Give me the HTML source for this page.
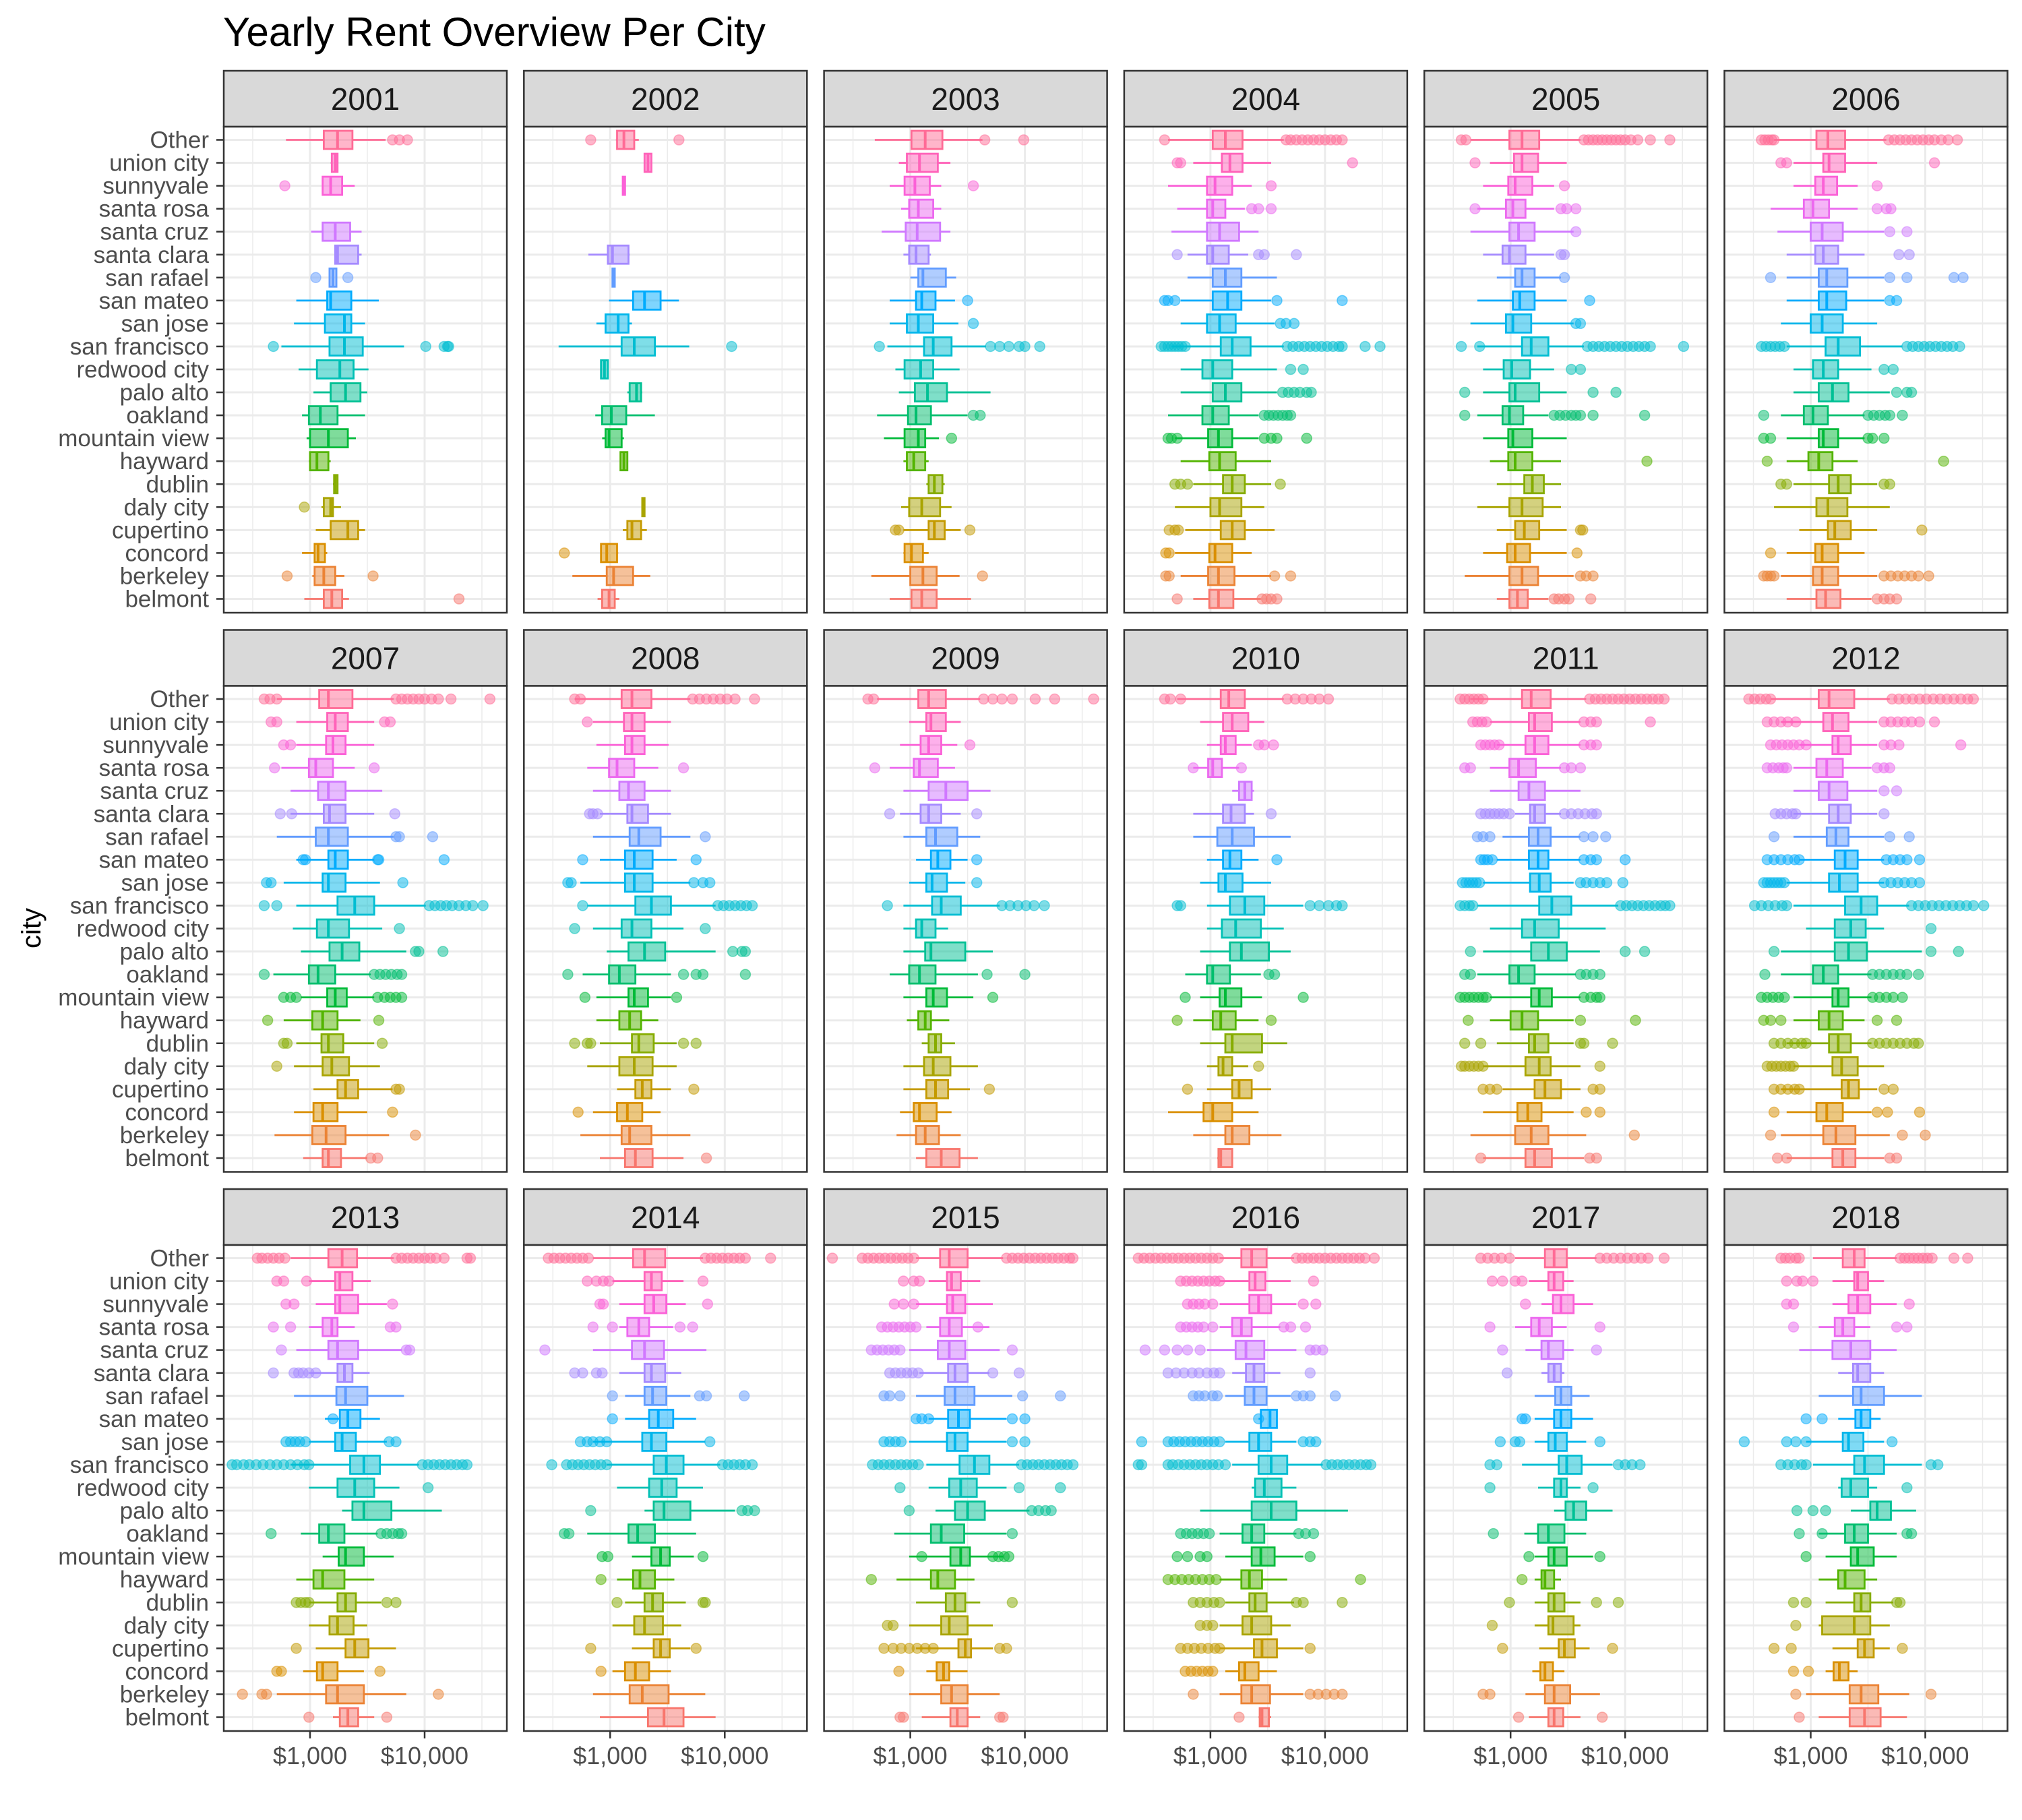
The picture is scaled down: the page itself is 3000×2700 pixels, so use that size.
<!DOCTYPE html>
<html><head><meta charset="utf-8"><style>
html,body{margin:0;padding:0;background:#fff;}
svg{display:block;font-family:"Liberation Sans",Arial,sans-serif;}
</style></head><body>
<svg id="chart" width="3000" height="2700" viewBox="0 0 3000 2700" xmlns="http://www.w3.org/2000/svg">
<rect x="0" y="0" width="3000" height="2700" fill="#fff"/>
<text x="331" y="68" font-size="60" fill="#000">Yearly Rent Overview Per City</text>
<text transform="translate(60,1377) rotate(-90)" text-anchor="middle" font-size="40" fill="#000">city</text>
<g id="plots"></g>
</svg>
<script>
const cities = ["belmont","berkeley","concord","cupertino","daly city","dublin","hayward","mountain view","oakland","palo alto","redwood city","san francisco","san jose","san mateo","san rafael","santa clara","santa cruz","santa rosa","sunnyvale","union city","Other"];
const years = ["2001","2002","2003","2004","2005","2006","2007","2008","2009","2010","2011","2012","2013","2014","2015","2016","2017","2018"];
const tickValues = [1000, 10000];
const tickLabels = ["$1,000", "$10,000"];
// each entry: [lowWhisker, q1, median, q3, highWhisker, outliers] in log10(rent $)
const logRent2001 = [[2.95,3.12,3.19,3.28,3.34,[4.3]],[3.02,3.04,3.12,3.22,3.3,[2.8,3.55]],[2.93,3.04,3.07,3.13,3.15,[]],[3.05,3.18,3.33,3.42,3.48,[]],[3.1,3.12,3.18,3.2,3.27,[2.95]],[3.2,3.21,3.22,3.24,3.24,[]],[2.99,3.0,3.06,3.16,3.18,[]],[2.97,3.0,3.16,3.33,3.4,[]],[2.93,2.99,3.09,3.24,3.48,[]],[3.03,3.18,3.31,3.44,3.5,[]],[2.9,3.06,3.26,3.38,3.51,[]],[2.75,3.17,3.3,3.46,3.82,[2.68,4.01,4.17,4.2,4.21]],[2.86,3.13,3.3,3.36,3.48,[]],[2.88,3.15,3.18,3.36,3.6,[]],[3.17,3.17,3.2,3.23,3.23,[3.05,3.33]],[3.22,3.22,3.24,3.42,3.45,[]],[3.01,3.11,3.22,3.35,3.45,[]],null,[3.11,3.11,3.18,3.28,3.39,[2.78]],[3.18,3.19,3.22,3.24,3.24,[]],[2.79,3.12,3.24,3.37,3.66,[3.72,3.78,3.85]]];
const logRent2002 = [[2.89,2.93,2.99,3.04,3.08,[]],[2.67,2.97,3.03,3.2,3.35,[]],[2.92,2.92,2.97,3.06,3.07,[2.6]],[3.11,3.15,3.19,3.27,3.32,[]],[3.28,3.28,3.29,3.3,3.3,[]],null,[3.09,3.09,3.12,3.15,3.15,[]],[2.93,2.96,2.99,3.1,3.12,[]],[2.87,2.93,3.01,3.14,3.39,[]],[3.15,3.17,3.23,3.27,3.28,[]],[2.92,2.92,2.95,2.98,2.98,[]],[2.55,3.1,3.21,3.39,3.69,[4.06]],[2.88,2.96,3.07,3.16,3.19,[]],[2.99,3.2,3.3,3.44,3.6,[]],[3.02,3.02,3.03,3.04,3.04,[]],[2.81,2.98,3.02,3.16,3.17,[]],null,null,[3.11,3.11,3.12,3.13,3.13,[]],[3.3,3.3,3.33,3.36,3.36,[]],[3.05,3.06,3.12,3.21,3.25,[2.83,3.6]]];
const logRent2003 = [[2.82,3.01,3.1,3.23,3.53,[]],[2.66,3.0,3.11,3.23,3.43,[3.63]],[2.94,2.95,3.01,3.11,3.16,[]],[2.94,3.16,3.21,3.3,3.44,[2.87,2.9,3.52]],[2.92,2.99,3.1,3.26,3.36,[]],[3.14,3.16,3.21,3.28,3.3,[]],[2.94,2.97,3.03,3.13,3.16,[]],[2.77,2.95,3.07,3.13,3.25,[3.36]],[2.71,2.98,3.05,3.18,3.5,[3.55,3.61]],[2.9,3.04,3.15,3.32,3.7,[]],[2.87,2.95,3.09,3.2,3.43,[]],[2.8,3.12,3.2,3.36,3.66,[2.73,3.7,3.78,3.86,3.95,4.0,4.13]],[2.82,2.97,3.07,3.2,3.42,[3.55]],[2.82,3.05,3.1,3.22,3.39,[3.5]],[3.0,3.07,3.11,3.31,3.4,[]],[2.94,2.99,3.05,3.16,3.18,[]],[2.75,2.96,3.06,3.26,3.35,[]],[2.92,2.99,3.07,3.2,3.27,[]],[2.82,2.95,3.04,3.17,3.27,[3.55]],[2.9,2.97,3.08,3.24,3.35,[]],[2.69,3.01,3.13,3.28,3.63,[3.65,3.99]]];
const logRent2004 = [[2.85,2.99,3.07,3.2,3.44,[2.71,3.45,3.49,3.53,3.58]],[2.74,2.98,3.07,3.21,3.53,[2.61,2.64,3.56,3.7]],[2.69,2.99,3.04,3.19,3.36,[2.61,2.64]],[2.78,3.09,3.19,3.3,3.56,[2.64,2.69,2.72]],[2.69,3.0,3.08,3.27,3.47,[]],[2.85,3.11,3.19,3.3,3.53,[2.69,2.74,2.8,3.61]],[2.74,2.99,3.08,3.22,3.53,[]],[2.69,2.98,3.07,3.19,3.42,[2.63,2.66,2.71,3.47,3.53,3.58,3.84]],[2.63,2.93,3.02,3.16,3.42,[3.47,3.51,3.55,3.59,3.63,3.67,3.7]],[2.74,3.02,3.13,3.27,3.58,[3.63,3.68,3.73,3.78,3.84,3.88]],[2.74,2.93,3.02,3.19,3.58,[3.7,3.81]],[2.66,3.09,3.19,3.35,3.64,[2.57,2.6,2.63,2.66,2.69,2.72,2.75,2.78,3.67,3.72,3.77,3.82,3.87,3.92,3.97,4.02,4.07,4.12,4.15,4.35,4.48]],[2.74,2.97,3.08,3.22,3.56,[3.61,3.66,3.73]],[2.74,3.02,3.15,3.27,3.53,[2.6,2.63,2.69,3.58,4.15]],[2.8,3.02,3.13,3.27,3.58,[]],[2.8,2.97,3.02,3.16,3.33,[2.71,3.42,3.47,3.75]],[2.66,2.97,3.08,3.25,3.42,[]],[2.71,2.97,3.02,3.13,3.3,[3.36,3.42,3.53]],[2.63,2.97,3.04,3.19,3.36,[3.53]],[2.85,3.1,3.17,3.28,3.53,[2.71,2.74,4.24]],[2.63,3.02,3.13,3.28,3.64,[2.6,3.66,3.7,3.75,3.8,3.85,3.9,3.95,4.0,4.05,4.1,4.15]]];
const logRent2005 = [[2.88,2.99,3.06,3.15,3.33,[3.38,3.42,3.47,3.51,3.7]],[2.6,2.99,3.1,3.24,3.55,[3.61,3.66,3.72]],[2.76,2.97,3.04,3.17,3.49,[3.58]],[2.88,3.04,3.12,3.25,3.49,[3.61,3.63]],[2.71,2.99,3.1,3.28,3.44,[]],[2.88,3.12,3.19,3.29,3.44,[]],[2.82,2.98,3.04,3.19,3.44,[4.19]],[2.76,2.98,3.02,3.19,3.49,[]],[2.71,2.93,2.99,3.11,3.33,[2.6,3.38,3.43,3.48,3.53,3.57,3.61,3.72,4.17]],[2.76,2.99,3.04,3.25,3.49,[2.6,3.72,3.92]],[2.76,2.94,3.01,3.17,3.38,[3.53,3.61]],[2.71,3.1,3.18,3.33,3.64,[2.57,2.73,3.67,3.72,3.77,3.82,3.87,3.92,3.97,4.02,4.07,4.12,4.17,4.22,4.51]],[2.65,2.96,3.02,3.18,3.55,[3.57,3.61]],[2.71,3.02,3.08,3.21,3.49,[3.69]],[2.88,3.04,3.1,3.21,3.44,[3.47]],[2.76,2.93,2.99,3.13,3.38,[3.44,3.47]],[2.65,2.99,3.07,3.21,3.55,[3.57]],[2.71,2.96,3.02,3.13,3.38,[2.69,3.44,3.49,3.57]],[2.76,2.98,3.04,3.19,3.38,[3.47]],[2.82,3.03,3.1,3.24,3.49,[2.69]],[2.65,2.99,3.1,3.25,3.61,[2.57,2.61,3.64,3.68,3.72,3.76,3.8,3.84,3.88,3.92,3.96,4.0,4.05,4.11,4.22,4.39]]];
const logRent2006 = [[2.79,3.05,3.13,3.26,3.53,[3.58,3.64,3.69,3.75]],[2.74,3.02,3.1,3.24,3.58,[2.59,2.62,2.65,2.68,3.64,3.7,3.76,3.82,3.88,3.94,4.03]],[2.79,3.04,3.1,3.24,3.47,[2.65]],[2.9,3.15,3.21,3.35,3.58,[3.97]],[2.68,3.05,3.15,3.32,3.69,[]],[2.85,3.16,3.24,3.35,3.58,[2.74,2.79,3.64,3.69]],[2.79,2.98,3.07,3.19,3.41,[2.62,4.16]],[2.79,3.07,3.11,3.24,3.47,[2.59,2.65,3.5,3.54,3.64]],[2.74,2.94,3.02,3.15,3.47,[2.59,3.5,3.55,3.6,3.65,3.69,3.8]],[2.85,3.07,3.19,3.33,3.69,[3.75,3.84,3.88]],[2.85,3.02,3.11,3.24,3.53,[3.64,3.72]],[2.79,3.13,3.24,3.43,3.8,[2.57,2.61,2.65,2.69,2.73,2.77,3.84,3.89,3.94,3.99,4.04,4.09,4.14,4.19,4.24,4.3]],[2.74,3.0,3.1,3.28,3.58,[]],[2.79,3.07,3.14,3.31,3.64,[3.69,3.75]],[2.79,3.07,3.14,3.32,3.64,[2.65,3.69,3.84,4.25,4.33]],[2.79,3.04,3.11,3.24,3.47,[3.77,3.86]],[2.71,3.0,3.1,3.28,3.64,[3.69,3.84]],[2.65,2.94,3.02,3.16,3.41,[3.58,3.66,3.7]],[2.85,3.04,3.11,3.23,3.41,[3.58]],[2.85,3.11,3.16,3.3,3.58,[2.74,2.79,4.08]],[2.68,3.05,3.15,3.3,3.66,[2.57,2.6,2.63,2.66,2.68,3.68,3.73,3.78,3.83,3.88,3.93,3.98,4.03,4.08,4.14,4.2,4.28]]];
const logRent2007 = [[2.94,3.11,3.16,3.27,3.5,[3.53,3.59]],[2.69,3.02,3.14,3.31,3.69,[3.92]],[2.86,3.03,3.11,3.24,3.5,[3.72]],[3.03,3.24,3.31,3.42,3.72,[3.75,3.78]],[2.86,3.11,3.19,3.34,3.61,[2.71]],[2.88,3.1,3.16,3.29,3.56,[2.77,2.8,3.63]],[2.77,3.02,3.11,3.24,3.44,[2.63,3.6]],[2.92,3.15,3.22,3.32,3.56,[2.77,2.83,2.88,3.59,3.65,3.7,3.75,3.8]],[2.68,2.99,3.07,3.22,3.53,[2.6,3.56,3.61,3.66,3.71,3.76,3.8]],[2.92,3.17,3.28,3.43,3.84,[3.92,3.95,4.16]],[2.85,3.06,3.16,3.34,3.63,[3.78]],[2.88,3.24,3.39,3.56,4.01,[2.6,2.71,4.04,4.09,4.14,4.19,4.24,4.3,4.36,4.42,4.51]],[2.77,3.11,3.16,3.31,3.61,[2.62,2.66,3.81]],[2.88,3.16,3.22,3.33,3.56,[2.94,2.96,3.59,3.6,4.17]],[2.71,3.05,3.16,3.33,3.73,[3.75,3.78,4.07]],[2.83,3.12,3.17,3.31,3.56,[2.74,2.84,3.74]],[2.83,3.07,3.16,3.31,3.63,[]],[2.75,2.99,3.05,3.2,3.39,[2.69,3.56]],[2.88,3.14,3.2,3.31,3.56,[2.77,2.83]],[2.88,3.15,3.22,3.33,3.56,[2.66,2.71,3.65,3.7]],[2.71,3.08,3.16,3.37,3.73,[2.6,2.65,2.71,3.75,3.8,3.85,3.9,3.95,4.0,4.06,4.12,4.23,4.57]]];
const logRent2008 = [[2.91,3.13,3.22,3.37,3.64,[3.84]],[2.74,3.1,3.17,3.36,3.7,[]],[2.85,3.06,3.15,3.28,3.44,[2.72]],[3.06,3.22,3.28,3.36,3.53,[3.73]],[2.8,3.08,3.21,3.37,3.58,[]],[2.91,3.19,3.25,3.38,3.58,[2.69,2.8,2.83,3.64,3.75]],[2.88,3.08,3.17,3.27,3.42,[]],[2.88,3.16,3.21,3.33,3.53,[2.78,3.58]],[2.76,2.99,3.08,3.22,3.53,[2.63,3.64,3.75,3.81,4.18]],[2.97,3.16,3.3,3.48,3.92,[4.07,4.15,4.18]],[2.85,3.1,3.19,3.36,3.64,[2.69,3.83]],[2.8,3.22,3.36,3.53,3.92,[2.76,3.94,3.99,4.04,4.09,4.14,4.19,4.24]],[2.74,3.13,3.21,3.37,3.7,[2.63,2.66,3.73,3.81,3.87]],[2.91,3.13,3.21,3.37,3.58,[2.76,3.75]],[2.85,3.17,3.25,3.44,3.7,[3.83]],[2.91,3.15,3.19,3.33,3.53,[2.82,2.85,2.89]],[2.85,3.08,3.16,3.3,3.53,[]],[2.8,2.99,3.06,3.21,3.42,[3.64]],[2.88,3.13,3.19,3.3,3.51,[]],[2.85,3.12,3.19,3.3,3.53,[2.8]],[2.69,3.1,3.19,3.36,3.7,[2.69,2.74,3.72,3.78,3.84,3.9,3.96,4.02,4.09,4.26]]];
const logRent2009 = [[3.05,3.14,3.27,3.43,3.59,[]],[2.88,3.05,3.13,3.25,3.44,[]],[2.91,3.03,3.08,3.23,3.36,[]],[2.94,3.14,3.22,3.33,3.52,[3.69]],[2.94,3.12,3.2,3.35,3.59,[]],[3.1,3.16,3.22,3.27,3.39,[]],[2.97,3.07,3.13,3.18,3.34,[]],[2.94,3.14,3.2,3.32,3.55,[3.72]],[2.82,2.99,3.08,3.22,3.59,[3.67,4.0]],[2.94,3.13,3.18,3.48,3.72,[]],[2.94,3.05,3.1,3.22,3.33,[]],[2.94,3.19,3.27,3.44,3.78,[2.8,3.8,3.87,3.94,4.01,4.08,4.17]],[2.99,3.14,3.19,3.32,3.48,[3.58]],[3.05,3.18,3.24,3.35,3.5,[3.58]],[2.94,3.14,3.22,3.41,3.61,[]],[2.91,3.09,3.16,3.27,3.44,[2.82,3.58]],[2.94,3.16,3.31,3.5,3.7,[]],[2.82,3.03,3.08,3.24,3.39,[2.69]],[2.91,3.09,3.16,3.27,3.41,[3.52]],[2.99,3.14,3.18,3.31,3.44,[]],[2.71,3.07,3.16,3.31,3.61,[2.63,2.68,3.64,3.72,3.8,3.89,4.09,4.26,4.6]]];
const logRent2010 = [[3.06,3.07,3.09,3.19,3.19,[]],[2.85,3.13,3.19,3.34,3.62,[]],[2.63,2.94,3.02,3.19,3.42,[]],[2.97,3.19,3.25,3.36,3.53,[2.8]],[2.97,3.07,3.11,3.19,3.33,[3.42]],[2.91,3.13,3.19,3.45,3.67,[]],[2.85,3.02,3.09,3.22,3.42,[2.71,3.53]],[2.91,3.08,3.13,3.27,3.45,[2.78,3.81]],[2.78,2.97,3.02,3.17,3.44,[3.51,3.56]],[2.91,3.17,3.27,3.51,3.7,[]],[2.97,3.1,3.22,3.44,3.64,[]],[2.97,3.17,3.3,3.47,3.81,[2.71,2.74,3.87,3.95,4.03,4.1,4.15]],[2.91,3.07,3.13,3.28,3.53,[]],[2.97,3.11,3.17,3.27,3.42,[3.58]],[2.85,3.06,3.19,3.38,3.7,[]],[2.85,3.11,3.18,3.3,3.38,[3.53]],[3.19,3.25,3.3,3.36,3.38,[]],[2.85,2.98,3.02,3.1,3.25,[2.85,3.27]],[2.97,3.09,3.13,3.22,3.36,[3.42,3.47,3.55]],[2.91,3.11,3.19,3.33,3.47,[]],[2.71,3.09,3.16,3.3,3.64,[2.6,2.65,2.74,3.67,3.74,3.81,3.88,3.95,4.03]]];
const logRent2011 = [[2.76,3.13,3.21,3.36,3.64,[2.74,3.69,3.75]],[2.65,3.04,3.18,3.33,3.66,[4.08]],[2.76,3.06,3.15,3.27,3.55,[3.66,3.78]],[2.93,3.21,3.3,3.44,3.61,[2.76,2.82,2.88,3.72,3.78]],[2.76,3.13,3.25,3.35,3.61,[2.57,2.6,2.64,2.68,2.72,2.76,3.78]],[2.88,3.16,3.21,3.33,3.55,[2.6,2.74,3.61,3.64,3.89]],[2.82,3.0,3.1,3.24,3.55,[2.63,3.61,4.09]],[2.82,3.18,3.25,3.36,3.61,[2.56,2.6,2.64,2.68,2.72,2.76,2.79,3.64,3.7,3.75,3.78]],[2.71,2.99,3.07,3.21,3.57,[2.6,2.65,3.61,3.66,3.72,3.78]],[2.76,3.18,3.33,3.49,3.78,[2.65,4.0,4.17]],[2.82,3.1,3.21,3.42,3.83,[]],[2.71,3.25,3.36,3.53,3.94,[2.56,2.6,2.64,2.67,3.96,4.01,4.06,4.11,4.16,4.21,4.26,4.31,4.35,4.39]],[2.76,3.17,3.25,3.35,3.55,[2.58,2.61,2.64,2.67,2.7,2.73,3.61,3.66,3.72,3.78,3.84,3.98]],[2.88,3.16,3.24,3.33,3.61,[2.74,2.77,2.8,2.84,3.64,3.7,3.75,4.0]],[2.93,3.16,3.24,3.35,3.61,[2.71,2.76,2.82,3.64,3.72,3.83]],[3.04,3.17,3.21,3.3,3.44,[2.74,2.78,2.82,2.86,2.9,2.94,2.99,3.47,3.53,3.59,3.65,3.71,3.75]],[2.82,3.07,3.16,3.3,3.61,[]],[2.82,2.99,3.07,3.22,3.44,[2.6,2.65,3.47,3.53,3.61]],[2.88,3.13,3.21,3.33,3.61,[2.74,2.78,2.82,2.86,2.9,3.64,3.7,3.75]],[2.82,3.16,3.21,3.36,3.61,[2.67,2.71,2.75,2.79,3.64,3.7,3.75,4.22]],[2.65,3.1,3.18,3.35,3.66,[2.56,2.6,2.64,2.68,2.72,2.76,3.69,3.74,3.79,3.84,3.89,3.94,3.99,4.04,4.09,4.14,4.19,4.24,4.29,4.34]]];
const logRent2012 = [[2.79,3.19,3.28,3.39,3.64,[2.71,2.79,3.69,3.75]],[2.74,3.11,3.22,3.39,3.69,[2.65,3.8,4.0]],[2.79,3.05,3.14,3.28,3.53,[2.68,3.58,3.67,3.95]],[2.74,3.27,3.33,3.42,3.58,[2.68,2.74,2.8,2.86,2.9,3.64,3.72]],[2.85,3.19,3.27,3.41,3.64,[2.62,2.66,2.7,2.74,2.78,2.82,2.85]],[2.79,3.16,3.24,3.35,3.53,[2.68,2.74,2.8,2.86,2.92,2.96,3.54,3.6,3.66,3.72,3.78,3.84,3.9,3.94]],[2.85,3.07,3.16,3.28,3.47,[2.59,2.65,2.74,3.58,3.75]],[2.85,3.19,3.24,3.33,3.53,[2.57,2.62,2.67,2.72,2.77,3.54,3.6,3.66,3.72,3.8]],[2.74,3.02,3.11,3.24,3.53,[2.6,3.54,3.6,3.66,3.72,3.78,3.84,3.94]],[2.74,3.21,3.33,3.49,3.97,[2.68,4.05,4.29]],[2.96,3.21,3.35,3.48,3.64,[4.05]],[2.85,3.3,3.44,3.58,3.86,[2.51,2.57,2.63,2.69,2.75,2.79,3.88,3.94,4.0,4.06,4.12,4.18,4.24,4.3,4.36,4.42,4.51]],[2.79,3.16,3.25,3.41,3.64,[2.59,2.62,2.65,2.68,2.71,2.74,2.77,3.64,3.7,3.76,3.82,3.88,3.95]],[2.9,3.21,3.3,3.41,3.64,[2.62,2.68,2.74,2.8,2.86,2.9,3.66,3.72,3.78,3.84,3.95]],[2.85,3.14,3.22,3.33,3.64,[2.68,3.69,3.86]],[2.85,3.16,3.24,3.35,3.58,[2.69,2.74,2.79,2.84,2.87,3.64]],[2.85,3.07,3.16,3.32,3.58,[3.64,3.75]],[2.85,3.05,3.14,3.28,3.53,[2.62,2.67,2.72,2.76,2.79,3.58,3.64,3.69]],[2.9,3.19,3.24,3.35,3.58,[2.65,2.7,2.75,2.8,2.85,2.9,2.96,3.64,3.7,3.77,4.31]],[2.74,3.11,3.19,3.33,3.58,[2.62,2.68,2.74,2.8,2.87,3.64,3.7,3.76,3.82,3.88,3.95,4.08]],[2.65,3.07,3.16,3.38,3.69,[2.46,2.51,2.56,2.61,2.65,3.71,3.77,3.83,3.89,3.95,4.01,4.07,4.13,4.19,4.25,4.31,4.37,4.42]]];
const logRent2013 = [[3.2,3.26,3.33,3.42,3.56,[2.99,3.67]],[2.71,3.14,3.24,3.47,3.84,[2.41,2.58,2.62,4.12]],[2.94,3.06,3.11,3.24,3.47,[2.71,2.75,3.61]],[3.05,3.31,3.39,3.51,3.75,[2.88]],[2.99,3.17,3.24,3.38,3.5,[]],[2.99,3.24,3.31,3.4,3.62,[2.88,2.92,2.96,2.99,3.67,3.75]],[2.88,3.03,3.11,3.3,3.56,[]],[3.11,3.25,3.31,3.47,3.73,[]],[2.92,3.08,3.16,3.3,3.59,[2.66,3.62,3.67,3.72,3.77,3.8]],[3.28,3.37,3.47,3.71,4.15,[]],[2.99,3.24,3.39,3.56,3.78,[4.03]],[2.83,3.35,3.47,3.61,3.95,[2.32,2.36,2.42,2.47,2.53,2.59,2.65,2.71,2.77,2.83,2.89,2.95,2.99,3.98,4.03,4.08,4.13,4.18,4.23,4.28,4.33,4.37]],[2.99,3.22,3.28,3.4,3.67,[2.79,2.83,2.87,2.91,2.96,3.69,3.75]],[3.13,3.26,3.33,3.44,3.61,[3.2]],[2.86,3.23,3.31,3.5,3.82,[]],[2.99,3.24,3.3,3.37,3.52,[2.68,2.86,2.9,2.94,2.99,3.05]],[2.88,3.16,3.24,3.42,3.8,[2.75,3.84,3.87]],[2.99,3.11,3.19,3.24,3.39,[2.68,2.83,3.7,3.75]],[3.05,3.22,3.26,3.42,3.67,[2.79,2.86,3.72]],[2.99,3.22,3.26,3.37,3.53,[2.71,2.77,2.97]],[2.83,3.16,3.28,3.41,3.73,[2.54,2.58,2.63,2.68,2.73,2.78,3.75,3.8,3.85,3.9,3.95,4.0,4.05,4.1,4.17,4.37,4.4]]];
const logRent2014 = [[2.91,3.33,3.47,3.64,3.92,[]],[2.85,3.17,3.28,3.51,3.83,[]],[3.02,3.13,3.22,3.34,3.53,[2.92]],[3.19,3.38,3.44,3.52,3.7,[2.83,3.75]],[3.02,3.21,3.3,3.46,3.62,[]],[3.13,3.3,3.37,3.46,3.66,[3.06,3.81,3.83]],[3.06,3.2,3.26,3.39,3.56,[2.92]],[3.19,3.36,3.44,3.52,3.73,[2.93,2.98,3.81]],[2.8,3.16,3.24,3.39,3.75,[2.6,2.64]],[3.3,3.38,3.47,3.7,4.09,[2.83,4.15,4.2,4.26]],[3.06,3.34,3.45,3.58,3.81,[]],[2.97,3.38,3.49,3.64,3.96,[2.49,2.62,2.67,2.72,2.77,2.82,2.87,2.92,2.97,3.98,4.03,4.08,4.13,4.18,4.24]],[2.85,3.28,3.36,3.49,3.83,[2.74,2.8,2.85,2.91,2.97,3.87]],[3.13,3.34,3.42,3.55,3.75,[3.02]],[3.13,3.3,3.37,3.49,3.7,[3.02,3.78,3.84,4.17]],[3.08,3.3,3.36,3.48,3.62,[2.69,2.76,2.88,2.93]],[2.85,3.19,3.3,3.47,3.84,[2.43]],[3.08,3.15,3.25,3.34,3.55,[2.85,3.02,3.61,3.72]],[3.08,3.3,3.38,3.49,3.66,[2.91,2.94,3.85]],[3.02,3.3,3.36,3.45,3.64,[2.8,2.88,2.94,2.99,3.81]],[2.85,3.2,3.3,3.48,3.81,[2.46,2.51,2.56,2.61,2.66,2.71,2.76,2.81,3.83,3.88,3.93,3.98,4.03,4.08,4.13,4.18,4.4]]];
const logRent2015 = [[3.1,3.35,3.41,3.5,3.61,[2.91,2.94,3.78,3.81]],[2.99,3.27,3.36,3.5,3.78,[]],[3.14,3.23,3.29,3.34,3.5,[2.9]],[3.05,3.42,3.48,3.53,3.72,[2.77,2.85,2.92,2.99,3.06,3.13,3.2,3.78,3.84]],[2.99,3.27,3.34,3.5,3.72,[2.8,2.85]],[3.05,3.31,3.39,3.48,3.61,[3.89]],[2.88,3.18,3.24,3.39,3.56,[2.66]],[2.99,3.35,3.44,3.52,3.81,[3.1,3.72,3.77,3.82,3.86]],[2.86,3.18,3.27,3.47,3.84,[3.89]],[3.22,3.39,3.5,3.65,4.04,[2.99,4.06,4.12,4.18,4.23]],[3.16,3.34,3.44,3.58,3.84,[2.91,3.95,4.31]],[3.14,3.43,3.56,3.69,3.95,[2.67,2.72,2.77,2.82,2.87,2.92,2.97,3.02,3.07,3.97,4.02,4.07,4.12,4.17,4.22,4.27,4.32,4.37,4.42]],[2.99,3.32,3.39,3.5,3.84,[2.77,2.82,2.87,2.92,3.89,4.0]],[3.16,3.33,3.42,3.52,3.84,[3.05,3.1,3.16,3.89,4.0]],[3.05,3.3,3.39,3.56,3.89,[2.77,2.82,2.91,3.98,4.31]],[3.08,3.33,3.39,3.5,3.69,[2.82,2.87,2.92,2.97,3.02,3.07,3.72,3.95]],[2.99,3.24,3.34,3.48,3.78,[2.66,2.71,2.76,2.81,2.86,2.91,3.89]],[3.14,3.26,3.34,3.45,3.69,[2.75,2.8,2.85,2.9,2.95,3.0,3.05,3.59]],[3.05,3.32,3.37,3.48,3.72,[2.86,2.94,3.03]],[3.16,3.32,3.36,3.44,3.61,[2.94,3.03,3.08]],[3.05,3.26,3.34,3.5,3.81,[2.32,2.58,2.63,2.68,2.73,2.78,2.83,2.88,2.93,2.98,3.03,3.84,3.89,3.94,3.99,4.04,4.09,4.14,4.19,4.24,4.29,4.34,4.39,4.42]]];
const logRent2016 = [[3.42,3.43,3.45,3.51,3.53,[3.25]],[3.08,3.27,3.36,3.52,3.81,[2.85,3.87,3.94,4.01,4.08,4.15]],[3.13,3.25,3.3,3.42,3.58,[2.78,2.83,2.88,2.93,2.98,3.02]],[3.08,3.38,3.45,3.58,3.81,[2.74,2.8,2.86,2.92,2.98,3.04,3.08,3.87]],[3.08,3.28,3.36,3.53,3.7,[2.91,2.97,3.02]],[3.13,3.34,3.39,3.49,3.73,[2.85,2.91,2.97,3.03,3.08,3.75,3.81,4.15]],[3.08,3.27,3.34,3.45,3.67,[2.63,2.69,2.75,2.81,2.87,2.93,2.99,3.05,4.31]],[3.13,3.36,3.44,3.56,3.81,[2.71,2.8,2.91,2.97,3.87]],[3.08,3.28,3.36,3.47,3.75,[2.74,2.79,2.84,2.89,2.94,2.99,3.77,3.83,3.9]],[2.91,3.36,3.53,3.75,4.2,[]],[3.36,3.39,3.47,3.62,3.75,[]],[3.19,3.42,3.53,3.67,3.98,[2.37,2.4,2.63,2.67,2.72,2.77,2.82,2.87,2.92,2.97,3.02,3.07,3.13,4.01,4.06,4.11,4.16,4.21,4.26,4.31,4.36,4.4]],[3.13,3.34,3.42,3.53,3.75,[2.4,2.63,2.68,2.73,2.78,2.83,2.88,2.93,2.98,3.03,3.08,3.81,3.87,3.92]],[3.42,3.44,3.52,3.58,3.58,[3.42]],[3.13,3.3,3.38,3.49,3.7,[2.85,2.9,2.95,3.02,3.06,3.75,3.81,3.87,4.09]],[3.19,3.31,3.38,3.47,3.61,[2.63,2.7,2.77,2.84,2.9,2.97,3.03,3.08,3.87]],[2.97,3.22,3.31,3.47,3.75,[2.43,2.6,2.71,2.8,2.91,3.87,3.92,3.98]],[3.08,3.19,3.27,3.36,3.61,[2.74,2.79,2.84,2.89,2.94,3.02,3.64,3.7,3.83]],[3.08,3.34,3.42,3.53,3.75,[2.8,2.85,2.9,2.95,3.02,3.81,3.92]],[3.08,3.34,3.39,3.48,3.7,[2.74,2.79,2.84,2.89,2.94,2.99,3.04,3.08,3.9]],[3.08,3.27,3.36,3.49,3.73,[2.37,2.42,2.47,2.52,2.57,2.62,2.67,2.72,2.77,2.82,2.87,2.92,2.97,3.02,3.07,3.75,3.8,3.85,3.9,3.95,4.0,4.05,4.1,4.15,4.2,4.25,4.3,4.35,4.43]]];
const logRent2017 = [[3.16,3.33,3.38,3.46,3.61,[3.07,3.8]],[3.13,3.3,3.38,3.52,3.78,[2.76,2.82]],[3.19,3.26,3.3,3.37,3.47,[]],[3.25,3.42,3.47,3.56,3.69,[2.93,3.89]],[3.21,3.33,3.37,3.55,3.61,[2.84]],[3.21,3.33,3.38,3.47,3.61,[2.99,3.75,3.94]],[3.21,3.27,3.3,3.38,3.44,[3.1]],[3.21,3.33,3.38,3.49,3.72,[3.16,3.78]],[3.12,3.24,3.33,3.47,3.66,[2.85]],[3.38,3.48,3.55,3.66,3.89,[]],[3.24,3.38,3.44,3.49,3.61,[2.82,3.72]],[3.1,3.42,3.49,3.62,3.89,[2.82,2.88,3.94,4.0,4.06,4.13]],[3.21,3.33,3.39,3.49,3.66,[2.91,3.04,3.08,3.78]],[3.21,3.38,3.44,3.53,3.72,[3.1,3.13]],[3.21,3.39,3.44,3.53,3.69,[]],[3.27,3.33,3.38,3.44,3.47,[2.97]],[3.13,3.27,3.33,3.46,3.55,[2.93,3.75]],[3.04,3.18,3.25,3.36,3.49,[2.82,3.78]],[3.27,3.37,3.44,3.55,3.72,[3.13]],[3.16,3.33,3.38,3.46,3.55,[2.84,2.93,3.04,3.1]],[3.04,3.3,3.38,3.49,3.75,[2.74,2.8,2.86,2.92,2.99,3.78,3.84,3.9,3.96,4.02,4.08,4.14,4.2,4.34]]];
const logRent2018 = [[3.07,3.34,3.47,3.61,3.84,[2.9]],[2.96,3.34,3.44,3.59,3.86,[2.87,4.05]],[3.13,3.2,3.25,3.33,3.41,[2.85,2.98]],[3.19,3.41,3.47,3.55,3.69,[2.68,2.83,3.8]],[3.07,3.1,3.38,3.52,3.69,[2.87]],[3.13,3.38,3.44,3.52,3.72,[2.85,2.96,3.75,3.78]],[3.07,3.24,3.3,3.47,3.58,[]],[3.13,3.35,3.41,3.55,3.75,[2.96]],[3.07,3.3,3.38,3.5,3.75,[2.9,3.1,3.84,3.88]],[3.35,3.52,3.58,3.7,3.92,[2.88,3.02,3.13]],[3.24,3.27,3.35,3.5,3.58,[3.84]],[3.02,3.38,3.47,3.64,3.97,[2.74,2.8,2.86,2.92,2.96,4.05,4.11]],[2.96,3.28,3.33,3.46,3.64,[2.42,2.79,2.87,2.96,3.71]],[3.24,3.39,3.44,3.52,3.61,[2.96,3.1]],[3.07,3.37,3.44,3.64,3.97,[]],[3.24,3.37,3.41,3.52,3.64,[]],[2.9,3.19,3.35,3.52,3.75,[]],[3.07,3.21,3.28,3.38,3.52,[2.85,3.75,3.84]],[3.19,3.33,3.41,3.52,3.75,[2.79,2.85,3.86]],[3.19,3.38,3.41,3.5,3.64,[2.79,2.88,2.93,3.02]],[3.02,3.28,3.38,3.47,3.75,[2.74,2.78,2.82,2.87,2.9,3.78,3.82,3.86,3.9,3.94,3.98,4.02,4.06,4.25,4.37]]];
const yearData = [logRent2001,logRent2002,logRent2003,logRent2004,logRent2005,logRent2006,logRent2007,logRent2008,logRent2009,logRent2010,logRent2011,logRent2012,logRent2013,logRent2014,logRent2015,logRent2016,logRent2017,logRent2018];

const NS = "http://www.w3.org/2000/svg";
const root = document.getElementById("plots");
const PW = 420, PH = 721, STRIP = 83;
function colLeft(c){ return 332 + 445.3*c; }
function rowStrip(r){ return 105 + 829.5*r; }
function xScale(lv, c){ return colLeft(c) + 128 + (lv - 3) * 170; }
function yScale(i, top){ return top + PH - 20.5 - i * 34.05; }
function mk(tag, attrs, parent){ const e = document.createElementNS(NS, tag); for (const k in attrs) e.setAttribute(k, attrs[k]); (parent||root).appendChild(e); return e; }
function hcl(h){
  const L=65, C=100, Yn=100, un=0.19784, vn=0.46834;
  const hr=h*Math.PI/180, u=C*Math.cos(hr), v=C*Math.sin(hr);
  const Y=Yn*Math.pow((L+16)/116,3);
  const up=u/(13*L)+un, vp=v/(13*L)+vn;
  const X=Y*9*up/(4*vp), Z=Y*(12-3*up-20*vp)/(4*vp);
  const x=X/100,y=Y/100,z=Z/100;
  let r=3.2404542*x-1.5371385*y-0.4985314*z, g=-0.9692660*x+1.8760108*y+0.0415560*z, b=0.0556434*x-0.2040259*y+1.0572252*z;
  const gam=t=>{t=Math.max(0,Math.min(1,t));return Math.round(255*(t<=0.0031308?12.92*t:1.055*Math.pow(t,1/2.4)-0.055));};
  return "rgb("+gam(r)+","+gam(g)+","+gam(b)+")";
}
const colors = cities.map((c,i)=>hcl(15 + i*360/21));
const defs = mk("defs", {});

years.forEach((yr, p) => {
  const c = p % 6, r = Math.floor(p / 6);
  const left = colLeft(c), sTop = rowStrip(r), top = sTop + STRIP;
  const g = mk("g", {});
  
  
  const strip = mk("rect", {x:left, y:sTop, width:PW, height:STRIP, fill:"#D9D9D9", stroke:"#333", "stroke-width":2.5}, g);
  
  
  const st = mk("text", {x:left+PW/2, y:sTop+58, "text-anchor":"middle", "font-size":46, fill:"#1A1A1A"}, g);
  st.textContent = yr;
  
  
  mk("rect", {x:left, y:top, width:PW, height:PH, fill:"#fff"}, g);
  const cp = mk("clipPath", {id:"clip"+p}, defs);
  mk("rect", {x:left, y:top, width:PW, height:PH}, cp);
  // minor grid
  [2.5, 3.5, 4.5].forEach(lv => { mk("line", {x1:xScale(lv,c), x2:xScale(lv,c), y1:top, y2:top+PH, stroke:"#EBEBEB", "stroke-width":1.5}, g); });
  tickValues.forEach(tv => { const xx = xScale(Math.log10(tv), c); mk("line", {x1:xx, x2:xx, y1:top, y2:top+PH, stroke:"#EBEBEB", "stroke-width":3}, g); });
  cities.forEach((ct, i) => { const yy = yScale(i, top); mk("line", {x1:left, x2:left+PW, y1:yy, y2:yy, stroke:"#EBEBEB", "stroke-width":3}, g); });
  const marks = mk("g", {"clip-path":"url(#clip"+p+")"}, g);
  const data = yearData[p];
  data.forEach((d, i) => {
    if (!d) return;
    const col = colors[i], yy = yScale(i, top), bh = 27;
    const bg = mk("g", {}, marks);
    
    
    mk("line", {x1:xScale(d[0],c), x2:xScale(d[1],c), y1:yy, y2:yy, stroke:col, "stroke-width":2.8}, bg);
    mk("line", {x1:xScale(d[3],c), x2:xScale(d[4],c), y1:yy, y2:yy, stroke:col, "stroke-width":2.8}, bg);
    const bx = xScale(d[1],c), bw = Math.max(xScale(d[3],c) - bx, 2);
    mk("rect", {x:bx, y:yy-bh/2, width:bw, height:bh, fill:col, "fill-opacity":0.5, stroke:col, "stroke-width":2.8}, bg);
    const mx = xScale(d[2],c);
    mk("line", {x1:mx, x2:mx, y1:yy-bh/2, y2:yy+bh/2, stroke:col, "stroke-width":4}, bg);
    d[5].forEach(o => {
      const pt = mk("circle", {cx:xScale(o,c), cy:yy, r:7.5, fill:col, "fill-opacity":0.5, stroke:col, "stroke-opacity":0.5, "stroke-width":1.5}, bg);
      
      
    });
  });
  mk("rect", {x:left, y:top, width:PW, height:PH, fill:"none", stroke:"#333", "stroke-width":2.5}, g);
  if (c === 0) {
    cities.forEach((ct, i) => {
      const yy = yScale(i, top);
      mk("line", {x1:left-11, x2:left, y1:yy, y2:yy, stroke:"#333", "stroke-width":2.5}, g);
      const t = mk("text", {x:left-22, y:yy+12, "text-anchor":"end", "font-size":35, fill:"#4D4D4D"}, g);
      t.textContent = ct;
      
      
    });
  }
  if (r === 2) {
    tickValues.forEach((tv, k) => {
      const xx = xScale(Math.log10(tv), c);
      mk("line", {x1:xx, x2:xx, y1:top+PH, y2:top+PH+11, stroke:"#333", "stroke-width":2.5}, g);
      const t = mk("text", {x:xx, y:top+PH+49, "text-anchor":"middle", "font-size":36, fill:"#4D4D4D"}, g);
      t.textContent = tickLabels[k];
      
      
    });
  }
});
</script>
</body></html>
